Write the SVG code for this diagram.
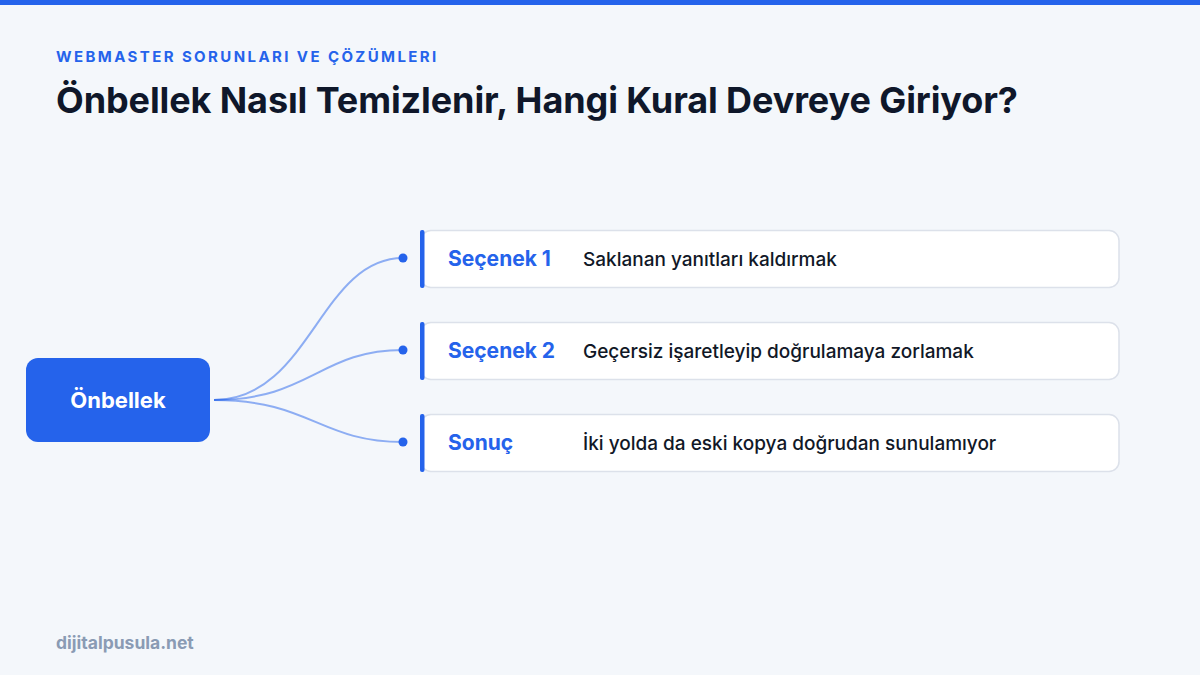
<svg xmlns="http://www.w3.org/2000/svg" width="1200" height="675" viewBox="0 0 1200 675">
<style>
.bg{fill:#F4F7FB}
.eyebrow{font-family:Inter,"Liberation Sans",sans-serif;font-size:15px;font-weight:700;fill:#2563EB;letter-spacing:2.4px}
.title{font-family:Inter,"Liberation Sans",sans-serif;font-size:36px;font-weight:700;fill:#0F172A;letter-spacing:-0.1px}
.hub{fill:#2563EB}
.hubtxt{font-family:Inter,"Liberation Sans",sans-serif;font-size:22px;font-weight:700;fill:#FFFFFF}
.card{fill:#FFFFFF;stroke:#DCE1EA;stroke-width:1.5}
.bar{fill:#2563EB}
.lbl{font-family:Inter,"Liberation Sans",sans-serif;font-size:21px;font-weight:700;fill:#2563EB}
.desc{font-family:Inter,"Liberation Sans",sans-serif;font-size:19px;font-weight:500;fill:#111827}
.conn{fill:none;stroke:#2563EB;stroke-opacity:0.5;stroke-width:2}
.dot{fill:#2563EB}
.foot{font-family:Inter,"Liberation Sans",sans-serif;font-size:17.5px;font-weight:700;fill:#8A9BB4}
</style>
<rect class="bg" x="0" y="0" width="1200" height="675"/>
<rect x="0" y="0" width="1200" height="5" fill="#2563EB"/>
<text class="eyebrow" x="56" y="62">WEBMASTER SORUNLARI VE ÇÖZÜMLERI</text>
<text class="title" x="56" y="113">Önbellek Nasıl Temizlenir, Hangi Kural Devreye Giriyor?</text>
<g id="connectors">
<path class="conn" d="M214,400 C310,400 320,258 403,258"/>
<path class="conn" d="M214,400 C310,400 320,350 403,350"/>
<path class="conn" d="M214,400 C310,400 320,442 403,442"/>
<circle class="dot" cx="403" cy="258" r="4.5"/>
<circle class="dot" cx="403" cy="350" r="4.5"/>
<circle class="dot" cx="403" cy="442" r="4.5"/>
</g>
<g id="node-hub">
<rect class="hub" x="26" y="358" width="184" height="84" rx="12"/>
<text class="hubtxt" x="118" y="408" text-anchor="middle">Önbellek</text>
</g>
<g id="node-secenek1">
<rect class="card" x="421" y="230.5" width="698" height="57" rx="10"/>
<rect class="bar" x="420" y="230" width="4.5" height="58" rx="2"/>
<text class="lbl" x="448" y="266">Seçenek 1</text>
<text class="desc" x="583" y="266">Saklanan yanıtları kaldırmak</text>
</g>
<g id="node-secenek2">
<rect class="card" x="421" y="322.5" width="698" height="57" rx="10"/>
<rect class="bar" x="420" y="322" width="4.5" height="58" rx="2"/>
<text class="lbl" x="448" y="358">Seçenek 2</text>
<text class="desc" x="583" y="358">Geçersiz işaretleyip doğrulamaya zorlamak</text>
</g>
<g id="node-sonuc">
<rect class="card" x="421" y="414.5" width="698" height="57" rx="10"/>
<rect class="bar" x="420" y="414" width="4.5" height="58" rx="2"/>
<text class="lbl" x="448" y="450">Sonuç</text>
<text class="desc" x="583" y="450">İki yolda da eski kopya doğrudan sunulamıyor</text>
</g>
<text class="foot" x="56" y="649">dijitalpusula.net</text>
</svg>
